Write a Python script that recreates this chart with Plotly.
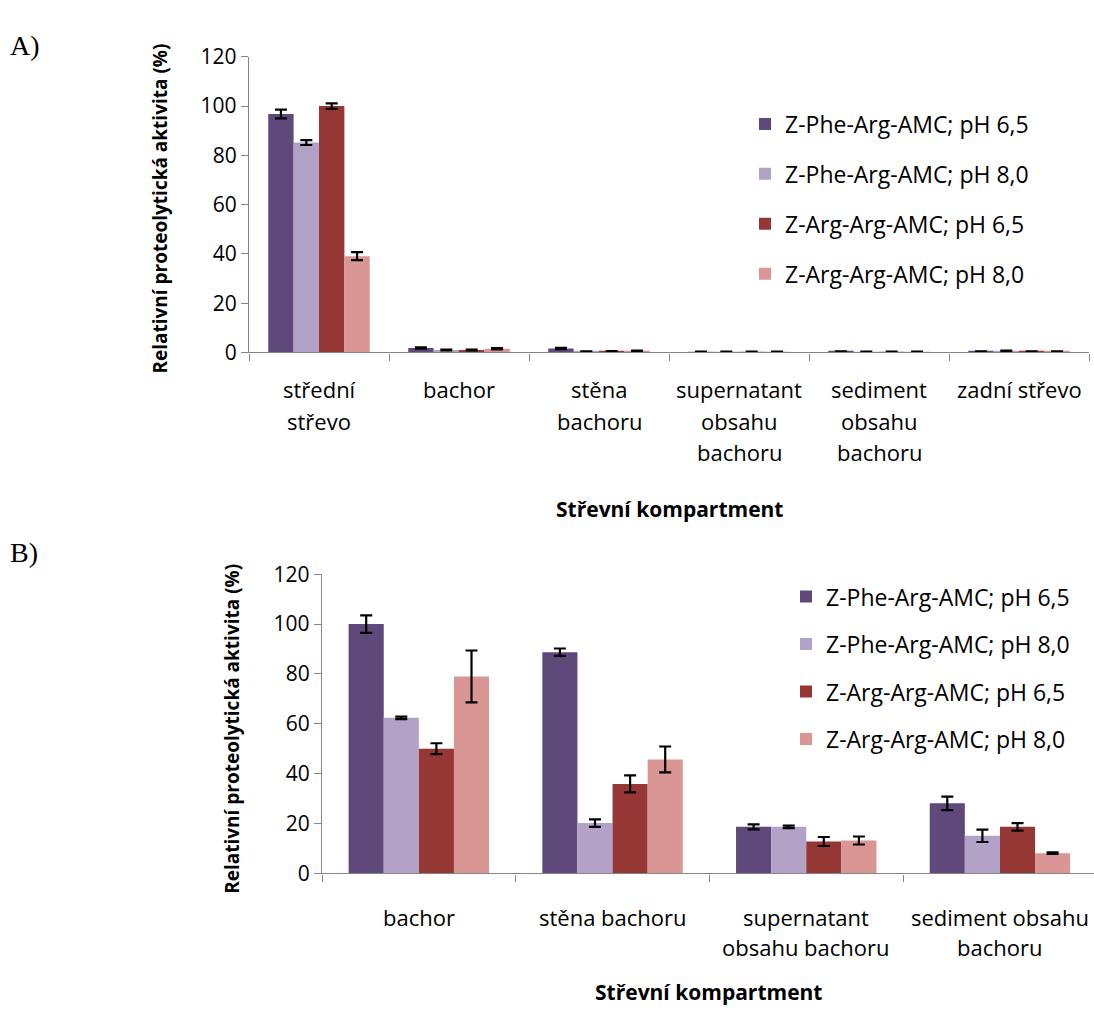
import plotly.graph_objects as go

W, H = 1094, 1018
FONT = "Open Sans"
AXIS_GREY = "#868686"

series_names = [
    "Z-Phe-Arg-AMC; pH 6,5",
    "Z-Phe-Arg-AMC; pH 8,0",
    "Z-Arg-Arg-AMC; pH 6,5",
    "Z-Arg-Arg-AMC; pH 8,0",
]
series_colors = ["#5F497A", "#B3A2C7", "#953735", "#D99694"]

# Panel A: relative activity across all gut compartments
categories_a = [
    "střední\nstřevo",
    "bachor",
    "stěna\nbachoru",
    "supernatant\nobsahu\nbachoru",
    "sediment\nobsahu\nbachoru",
    "zadní střevo",
]
values_a = [
    [96.8, 1.8, 1.6, 0.2, 0.4, 0.4],
    [85.2, 1.0, 0.4, 0.2, 0.2, 0.6],
    [100.0, 1.0, 0.5, 0.2, 0.2, 0.4],
    [39.1, 1.5, 0.6, 0.2, 0.2, 0.4],
]
errors_a = [
    [1.8, 0.3, 0.3, 0.1, 0.1, 0.1],
    [1.0, 0.2, 0.1, 0.1, 0.1, 0.2],
    [1.1, 0.2, 0.1, 0.1, 0.1, 0.1],
    [1.6, 0.3, 0.2, 0.1, 0.1, 0.1],
]

# Panel B: relative activity within the rumen (bachor) fractions
categories_b = [
    "bachor",
    "stěna bachoru",
    "supernatant\nobsahu bachoru",
    "sediment obsahu\nbachoru",
]
values_b = [
    [100.0, 88.7, 18.7, 28.1],
    [62.4, 20.2, 18.7, 15.1],
    [50.0, 35.9, 12.8, 18.7],
    [79.0, 45.7, 13.2, 8.1],
]
errors_b = [
    [3.5, 1.5, 1.0, 2.7],
    [0.5, 1.5, 0.5, 2.5],
    [2.2, 3.4, 1.8, 1.5],
    [10.4, 5.2, 1.6, 0.3],
]

y_ticks = [0, 20, 40, 60, 80, 100, 120]
y_title = "Relativní proteolytická aktivita (%)"
x_title = "Střevní kompartment"


def px_x(p):
    return p / W


def px_y(p):
    return 1 - p / H


fig = go.Figure()

panels = [
    dict(cats=categories_a, vals=values_a, errs=errors_a, xa="x", ya="y", legend="legend"),
    dict(cats=categories_b, vals=values_b, errs=errors_b, xa="x2", ya="y2", legend="legend2"),
]

for panel in panels:
    for name, color, vals, errs in zip(series_names, series_colors, panel["vals"], panel["errs"]):
        fig.add_trace(go.Bar(
            x=panel["cats"], y=vals, name=name,
            marker=dict(color=color, line=dict(width=0)),
            error_y=dict(type="data", array=errs, visible=True,
                         color="black", thickness=2.2, width=6),
            xaxis=panel["xa"], yaxis=panel["ya"],
            legend=panel["legend"], legendgroup=panel["legend"] + name,
        ))

axis_common = dict(showline=True, linecolor=AXIS_GREY, linewidth=1.3,
                   ticks="outside", tickcolor=AXIS_GREY, tickwidth=1.3,
                   showgrid=False, zeroline=False)
y_common = dict(axis_common, range=[0, 120], tickvals=y_ticks, ticklen=7,
                tickfont=dict(family=FONT, size=21, color="black"))

# Category axis of panel B is clipped by the right page edge
cat_w_b = 193.7
right_b = 3.5 - (322 + 4 * cat_w_b - W) / cat_w_b

fig.update_layout(
    width=W, height=H,
    margin=dict(l=0, r=0, t=0, b=0),
    paper_bgcolor="white", plot_bgcolor="white",
    barmode="group",
    bargap=0.275,
    bargroupgap=0,
    showlegend=True,
    font=dict(family=FONT, color="black"),
    xaxis=dict(axis_common, domain=[px_x(249), px_x(1089)], anchor="y",
               type="category", range=[-0.5, 5.5], tickson="boundaries",
               ticklen=7, showticklabels=False),
    yaxis=dict(y_common, domain=[px_y(347), px_y(43)], anchor="x"),
    xaxis2=dict(axis_common, domain=[px_x(322), 1.0], anchor="y2",
                type="category", range=[-0.5, right_b], tickson="boundaries",
                ticklen=7, showticklabels=False),
    yaxis2=dict(y_common, domain=[px_y(882.7), px_y(575)], anchor="x2"),
    legend=dict(x=px_x(745), y=px_y(90), xanchor="left", yanchor="top",
                font=dict(family=FONT, size=23, color="black"),
                tracegroupgap=17, traceorder="grouped",
                bgcolor="rgba(0,0,0,0)"),
    legend2=dict(x=px_x(786), y=px_y(576), xanchor="left", yanchor="top",
                 font=dict(family=FONT, size=23, color="black"),
                 tracegroupgap=14.6, traceorder="grouped",
                 bgcolor="rgba(0,0,0,0)"),
)

annotations = []


# Category labels, one annotation per text line
def add_category_labels(cats, xref, first_line_px, line_px, size):
    for cat in cats:
        for i, line in enumerate(cat.split("\n")):
            annotations.append(dict(
                x=cat, xref=xref, y=px_y(first_line_px + i * line_px), yref="paper",
                text=line, showarrow=False, xanchor="center", yanchor="middle",
                font=dict(family=FONT, size=size, color="black"),
            ))


add_category_labels(categories_a, "x", 385, 32, 22)
add_category_labels(categories_b, "x2", 928, 30, 22)

# Axis titles
for cx, cy in [(669, 508), (708, 1005)]:
    annotations.append(dict(
        x=px_x(cx), y=px_y(cy), xref="paper", yref="paper", text=f"<b>{x_title}</b>",
        showarrow=False, xanchor="center", yanchor="middle",
        font=dict(family=FONT, size=21, color="black"),
    ))
for cx, cy in [(160, 199), (232, 734)]:
    annotations.append(dict(
        x=px_x(cx), y=px_y(cy), xref="paper", yref="paper", text=f"<b>{y_title}</b>",
        showarrow=False, textangle=-90, xanchor="center", yanchor="middle",
        font=dict(family=FONT, size=19, color="black"),
    ))

# Panel letters
for label, cy in [("A)", 31), ("B)", 553)]:
    annotations.append(dict(
        x=px_x(8), y=px_y(cy), xref="paper", yref="paper", text=label,
        showarrow=False, xanchor="left", yanchor="middle",
        font=dict(family="Liberation Serif", size=28, color="black"),
    ))

fig.update_layout(annotations=annotations)

fig.write_html("out.html")
